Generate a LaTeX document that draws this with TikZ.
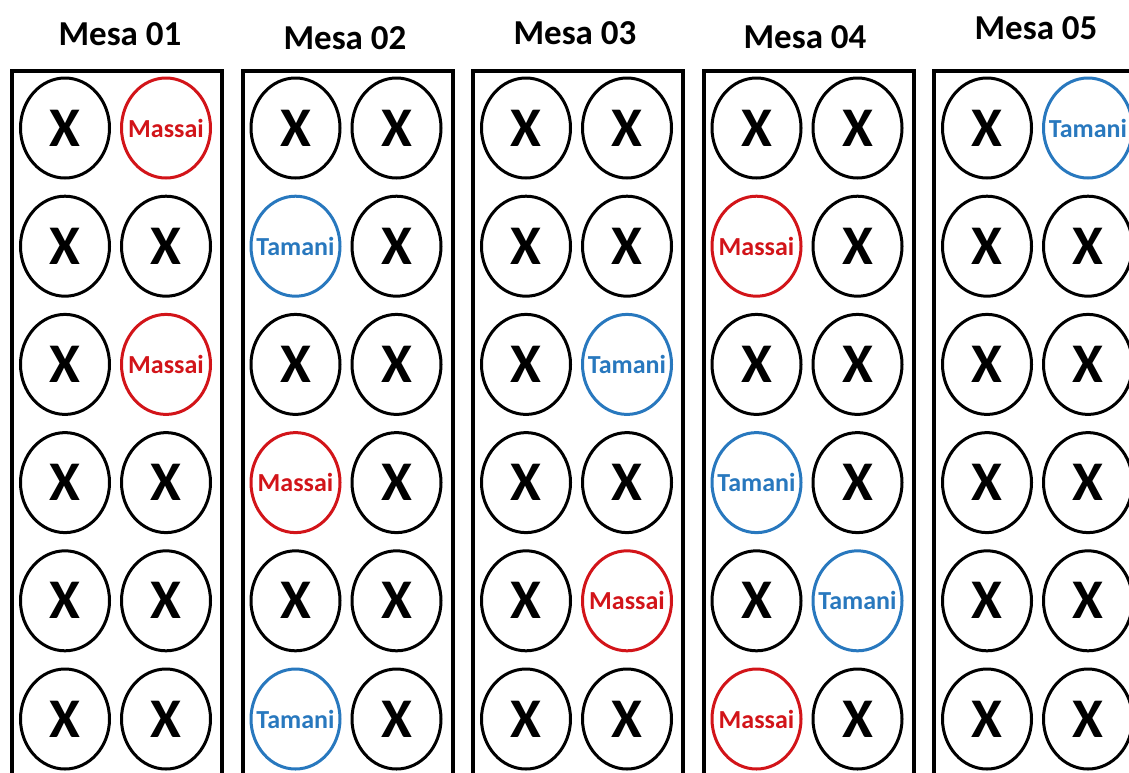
\documentclass[tikz,border=0pt]{standalone}
\usepackage{fontspec}
\setmainfont{Carlito}
\usetikzlibrary{shapes.geometric}
\definecolor{massaired}{RGB}{210,20,25}
\definecolor{tamaniblue}{RGB}{40,120,190}
\tikzset{
  mesa/.style={draw, line width=4pt, minimum width=210pt, minimum height=740pt, anchor=north west, inner sep=0pt},
  title/.style={font=\fontsize{35}{35}\selectfont\bfseries},
  seat/.style={ellipse, draw, line width=3pt, minimum width=89pt, minimum height=100pt, inner sep=0pt},
  free/.style={font=\fontsize{56}{56}\selectfont\bfseries},
  massai/.style={draw=massaired, text=massaired, font=\fontsize{26}{26}\selectfont\bfseries},
  tamani/.style={draw=tamaniblue, text=tamaniblue, font=\fontsize{26}{26}\selectfont\bfseries}
}
\begin{document}
\begin{tikzpicture}[x=1pt, y=-1pt]
  \useasboundingbox (0,0) rectangle (1129,772);
  \clip (0,0) rectangle (1129,772);
  % tables: number / title x / title y / seats row by row
  \foreach \m/\tx/\ty/\seats in {
    1/120/34/{free/X, massai/Massai, free/X, free/X, free/X, massai/Massai, free/X, free/X, free/X, free/X, free/X, free/X},
    2/345/38/{free/X, free/X, tamani/Tamani, free/X, free/X, free/X, massai/Massai, free/X, free/X, free/X, tamani/Tamani, free/X},
    3/575/33/{free/X, free/X, free/X, free/X, free/X, tamani/Tamani, free/X, free/X, free/X, massai/Massai, free/X, free/X},
    4/805/37/{free/X, free/X, massai/Massai, free/X, free/X, free/X, tamani/Tamani, free/X, free/X, tamani/Tamani, massai/Massai, free/X},
    5/1036/28/{free/X, tamani/Tamani, free/X, free/X, free/X, free/X, free/X, free/X, free/X, free/X, free/X, free/X}} {
    \pgfmathsetmacro\bx{10+230.5*(\m-1)}
    \node[title] (t\m) at (\tx,\ty) {Mesa 0\m};
    \node[mesa] (mesa\m) at (\bx,69) {};
    \foreach [count=\i] \st/\lbl in \seats {
      \pgfmathtruncatemacro\r{(\i-1)/2}
      \pgfmathtruncatemacro\c{mod(\i-1,2)}
      \node[seat, \st] (s\m-\i) at ({\bx+55+101*\c}, {128+118.2*\r}) {\makebox[0pt]{\lbl}};
    }
  }
\end{tikzpicture}
\end{document}
